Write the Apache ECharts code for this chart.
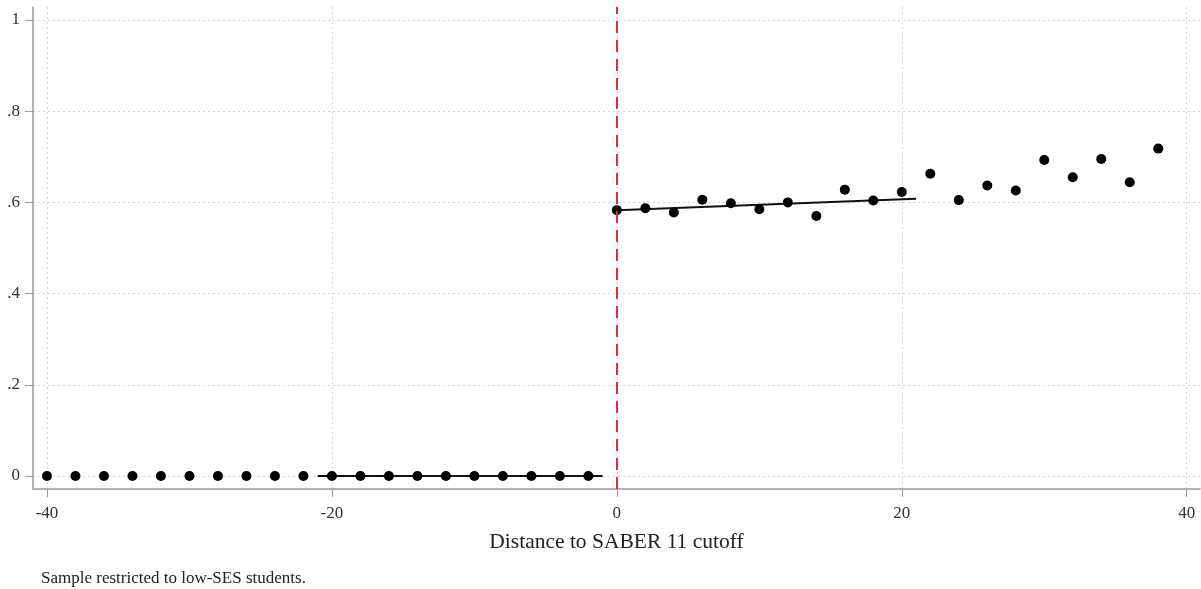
<!DOCTYPE html>
<html>
<head>
<meta charset="utf-8">
<script src="https://cdn.jsdelivr.net/npm/echarts@6/dist/echarts.min.js"></script>
<style>html,body{margin:0;padding:0;background:#fff;}#c{width:1201px;height:589px;}</style>
</head>
<body>
<div id="c"></div>
<script>
var leftX = [-40,-38,-36,-34,-32,-30,-28,-26,-24,-22,-20,-18,-16,-14,-12,-10,-8,-6,-4,-2];
var leftY = [0,0,0,0,0,0,0,0,0,0,0,0,0,0,0,0,0,0,0,0];
var rightX = [0,2,4,6,8,10,12,14,16,18,20,22,24,26,28,30,32,34,36,38];
var rightY = [0.583,0.587,0.578,0.606,0.598,0.585,0.600,0.570,0.628,0.604,0.623,0.663,0.605,0.637,0.626,0.693,0.655,0.695,0.644,0.718];
var fitLeftX = [-21,-1], fitLeftY = [0,0];
var fitRightX = [0,21], fitRightY = [0.583,0.608];
var xTicks = [-40,-20,0,20,40];
var xTickLabels = ['-40','-20','0','20','40'];
var yTicks = [0,0.2,0.4,0.6,0.8,1];
var yTickLabels = ['0','.2','.4','.6','.8','1'];
var cutoff = 0;
var xTitle = 'Distance to SABER 11 cutoff';
var note = 'Sample restricted to low-SES students.';

function zip(a,b){return a.map(function(v,i){return [v,b[i]];});}
var chart = echarts.init(document.getElementById('c'));
var serif = '"Liberation Serif","DejaVu Serif",serif';
chart.setOption({
  animation:false,
  backgroundColor:'#fff',
  title:{text:note,left:36,top:565,textStyle:{fontFamily:serif,fontSize:17,fontWeight:'normal',color:'#222'}},
  grid:{left:33,right:1,top:7,bottom:100,containLabel:false},
  xAxis:{type:'value',min:-40.98,max:40.93,
    name:xTitle,nameLocation:'middle',nameGap:42,
    nameTextStyle:{fontFamily:serif,fontSize:21.5,color:'#222'},
    axisLine:{show:true,onZero:false,lineStyle:{color:'#999',width:1.5}},
    axisTick:{show:true,customValues:xTicks,length:8,lineStyle:{color:'#999'}},
    axisLabel:{customValues:xTicks,margin:16,fontFamily:serif,fontSize:17,color:'#333',
      formatter:function(v){var i=xTicks.indexOf(v);return i>=0?xTickLabels[i]:'';}},
    splitLine:{show:true,lineStyle:{color:'#d4d4d4',type:[2,3],width:1}}
  },
  yAxis:{type:'value',min:-0.0285,max:1.0285,
    axisLine:{show:true,onZero:false,lineStyle:{color:'#999',width:1.5}},
    axisTick:{show:true,customValues:yTicks,length:8,lineStyle:{color:'#999'}},
    axisLabel:{customValues:yTicks,margin:13,fontFamily:serif,fontSize:17,color:'#333',
      formatter:function(v){var i=yTicks.indexOf(v);return i>=0?yTickLabels[i]:'';}},
    splitLine:{show:true,lineStyle:{color:'#d4d4d4',type:[2,3],width:1}}
  },
  series:[
    {type:'line',data:zip(fitLeftX,fitLeftY),symbol:'none',lineStyle:{color:'#111',width:2},z:3,
     markLine:{silent:true,symbol:'none',label:{show:false},
       lineStyle:{color:'#e0302a',type:[12,7],width:2},data:[{xAxis:cutoff}]}},
    {type:'line',data:zip(fitRightX,fitRightY),symbol:'none',lineStyle:{color:'#111',width:2},z:3},
    {type:'scatter',data:zip(leftX,leftY),symbol:'circle',symbolSize:10,itemStyle:{color:'#000',opacity:1},z:4},
    {type:'scatter',data:zip(rightX,rightY),symbol:'circle',symbolSize:10,itemStyle:{color:'#000',opacity:1},z:4}
  ]
});
</script>
</body>
</html>
